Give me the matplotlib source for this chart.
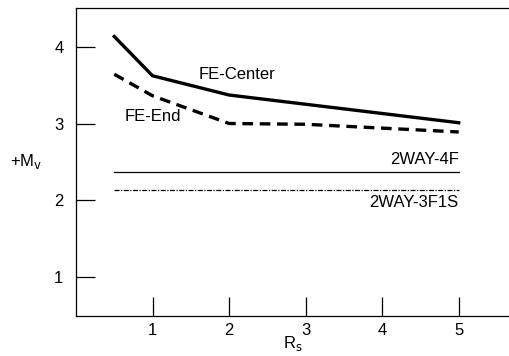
import matplotlib
matplotlib.use("Agg")
import matplotlib.pyplot as plt

plt.rcParams['font.family'] = ['Liberation Sans', 'DejaVu Sans']

rs = [0.5, 1, 2, 3, 4, 5]
fe_center = [4.13, 3.62, 3.37, 3.25, 3.13, 3.01]
fe_end = [3.64, 3.36, 3.00, 2.99, 2.94, 2.89]
way4f_x = [0.5, 5]
way4f = [2.37, 2.37]
way3f1s_x = [0.5, 5]
way3f1s = [2.14, 2.14]
xticks = [1, 2, 3, 4, 5]
yticks = [1, 2, 3, 4]

fig = plt.figure(figsize=(5.1, 3.56), dpi=100)
ax = fig.add_axes([0.149, 0.1124, 0.851, 0.8651])

ax.plot(rs, fe_center, color='black', lw=2.4, solid_joinstyle='miter')
ax.plot(rs, fe_end, color='black', lw=2.4, dashes=(3.2, 2.0))
ax.plot(way4f_x, way4f, color='black', lw=0.9)
ax.plot(way3f1s_x, way3f1s, color='black', lw=0.9, dashes=(4, 1.2, 1, 1.2))

fs = 12
ax.text(2.1, 3.64, 'FE-Center', fontsize=fs, ha='center', va='center')
ax.text(1.0, 3.09, 'FE-End', fontsize=fs, ha='center', va='center')
ax.text(5.0, 2.53, '2WAY-4F', fontsize=fs, ha='right', va='center')
ax.text(5.0, 1.97, '2WAY-3F1S', fontsize=fs, ha='right', va='center')

ax.set_xlim(0, 5.67)
ax.set_ylim(0.5, 4.5)
ax.set_xticks(xticks)
ax.set_yticks(yticks)
ax.tick_params(direction='in', length=13.5, width=0.9, labelsize=fs)
ax.tick_params(axis='y', pad=9)
ax.tick_params(axis='x', pad=5)
ax.spines['right'].set_visible(False)
for s in ['left', 'bottom', 'top']:
    ax.spines[s].set_linewidth(0.9)

ax.set_xlabel('R$_\\mathrm{s}$', fontsize=fs, labelpad=-3)
ax.set_ylabel('+M$_\\mathrm{v}$', fontsize=fs, rotation=0, labelpad=20, va='center')

fig.savefig('out.png', dpi=100)
